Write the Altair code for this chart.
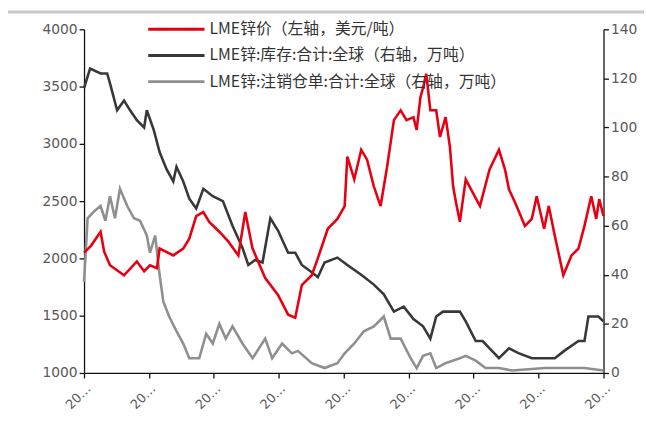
import altair as alt
import pandas as pd

names = ["LME锌价（左轴，美元/吨）",
         "LME锌:库存:合计:全球（右轴，万吨）",
         "LME锌:注销仓单:合计:全球（右轴，万吨）"]
colors = ["#e60012", "#383838", "#8f8f8f"]

price_dates = ["2013-01-01", "2013-02-09", "2013-04-04", "2013-04-24", "2013-05-27", "2013-08-14",
               "2013-10-25", "2013-12-05", "2014-01-07", "2014-02-15", "2014-03-02", "2014-05-18",
               "2014-07-13", "2014-08-16", "2014-09-24", "2014-11-03", "2014-12-06", "2015-02-01",
               "2015-03-24", "2015-05-19", "2015-06-27", "2015-08-06", "2015-10-17", "2015-12-28",
               "2016-02-23", "2016-04-03", "2016-05-10", "2016-07-05", "2016-08-08", "2016-10-03",
               "2016-11-26", "2017-01-06", "2017-01-21", "2017-03-01", "2017-04-09", "2017-05-12",
               "2017-06-19", "2017-07-27", "2017-09-02", "2017-10-10", "2017-11-17", "2017-12-20",
               "2018-01-28", "2018-02-15", "2018-03-08", "2018-03-23", "2018-04-10", "2018-05-03",
               "2018-06-05", "2018-06-26", "2018-07-28", "2018-08-21", "2018-09-08", "2018-09-24",
               "2018-10-16", "2018-11-18", "2018-12-26", "2019-02-06", "2019-04-01", "2019-05-24",
               "2019-06-27", "2019-07-19", "2019-08-22", "2019-10-17", "2019-11-25", "2019-12-22",
               "2020-02-02", "2020-02-28", "2020-04-02", "2020-05-20", "2020-07-05", "2020-08-13",
               "2020-09-16", "2020-10-24", "2020-11-21", "2020-12-08", "2021-01-01"]
price_vals = [2050, 2110, 2233, 2060, 1940, 1853, 1974, 1888, 1940, 1914, 2086, 2026,
              2086, 2172, 2370, 2405, 2319, 2233, 2146, 2026, 2405, 2090, 1828, 1681,
              1509, 1483, 1767, 1853, 2000, 2259, 2345, 2457, 2888, 2690, 2948, 2862,
              2629, 2457, 2802, 3207, 3293, 3207, 3233, 3121, 3405, 3491, 3612, 3293,
              3293, 3060, 3233, 2974, 2629, 2491, 2319, 2690, 2578, 2457, 2776, 2948,
              2776, 2603, 2491, 2284, 2345, 2543, 2259, 2457, 2198, 1853, 2026, 2086,
              2284, 2543, 2345, 2517, 2370]

stock_dates = ["2013-01-01", "2013-02-04", "2013-04-04", "2013-05-11", "2013-05-27", "2013-07-06",
               "2013-08-14", "2013-09-17", "2013-10-25", "2013-12-05", "2013-12-20", "2014-01-28",
               "2014-03-02", "2014-04-10", "2014-05-18", "2014-06-05", "2014-07-13", "2014-08-16",
               "2014-09-24", "2014-11-03", "2014-12-26", "2015-02-21", "2015-04-16", "2015-06-11",
               "2015-07-14", "2015-08-22", "2015-10-02", "2015-11-15", "2015-12-28", "2016-02-23",
               "2016-04-03", "2016-05-10", "2016-07-05", "2016-08-08", "2016-09-15", "2016-11-26",
               "2017-01-21", "2017-04-09", "2017-06-19", "2017-08-14", "2017-10-10", "2017-12-04",
               "2018-01-28", "2018-03-23", "2018-05-03", "2018-06-05", "2018-07-13", "2018-10-16",
               "2018-11-18", "2019-01-13", "2019-02-21", "2019-04-01", "2019-05-24", "2019-07-19",
               "2019-09-14", "2019-11-25", "2020-02-07", "2020-04-02", "2020-05-25", "2020-08-13",
               "2020-09-16", "2020-10-08", "2020-12-03", "2021-01-01"]
stock_vals = [116, 124, 122, 122, 118, 107, 111, 107, 103, 100, 107, 99,
              90, 83, 78, 84, 78, 71, 67, 75, 72, 70, 60, 51,
              44, 46, 45, 63, 58, 49, 49, 44, 41, 39, 45, 47,
              44, 40, 36, 32, 25, 27, 22, 19, 14, 23, 25, 25,
              21, 13, 13, 10, 6, 10, 8, 6, 6, 6, 9, 13,
              13, 23, 23, 21]

cancel_dates = ["2013-01-01", "2013-01-21", "2013-03-01", "2013-04-04", "2013-05-01", "2013-05-27",
                "2013-06-24", "2013-07-22", "2013-09-01", "2013-10-09", "2013-11-12", "2013-12-20",
                "2014-01-07", "2014-02-05", "2014-03-02", "2014-03-23", "2014-04-25", "2014-06-05",
                "2014-07-13", "2014-08-16", "2014-10-11", "2014-11-19", "2014-12-26", "2015-02-01",
                "2015-03-09", "2015-04-16", "2015-06-11", "2015-08-07", "2015-10-17", "2015-11-25",
                "2016-01-20", "2016-03-15", "2016-04-18", "2016-07-05", "2016-09-15", "2016-11-26",
                "2017-01-06", "2017-03-01", "2017-04-24", "2017-06-19", "2017-08-14", "2017-09-22",
                "2017-11-17", "2018-01-12", "2018-02-15", "2018-03-23", "2018-05-03", "2018-06-05",
                "2018-07-28", "2018-10-16", "2018-11-18", "2019-01-13", "2019-03-09", "2019-05-24",
                "2019-08-06", "2020-02-07", "2020-05-10", "2020-09-16", "2021-01-01"]
cancel_vals = [37, 63, 66, 68, 62, 72, 63, 75, 68, 63, 62, 56,
               49, 56, 40, 29, 23, 17, 12, 6, 6, 16, 12, 20,
               14, 19, 12, 6, 14, 6, 12, 8, 9, 4, 2, 4,
               8, 12, 17, 19, 23, 14, 14, 6, 2, 7, 8, 2,
               4, 6, 7, 5, 2, 2, 1, 2, 2, 2, 1]

tick_years = [2013, 2014, 2015, 2016, 2017, 2018, 2019, 2020, 2021]
left_ticks = [1000, 1500, 2000, 2500, 3000, 3500, 4000]
right_ticks = [0, 20, 40, 60, 80, 100, 120, 140]

price_df = pd.DataFrame({"date": price_dates, "value": price_vals, "series": names[0]})
stock_df = pd.concat([
    pd.DataFrame({"date": stock_dates, "value": stock_vals, "series": names[1]}),
    pd.DataFrame({"date": cancel_dates, "value": cancel_vals, "series": names[2]}),
], ignore_index=True)
legend_df = pd.DataFrame({"series": names})

W, H = 526, 348
label_font = "DejaVu Sans"
label_color = "#595959"

color = alt.Color("series:N", scale=alt.Scale(domain=names, range=colors), legend=None)

x_enc = alt.X(
    "date:T",
    scale=alt.Scale(domain=[alt.DateTime(year=tick_years[0], month=1, date=1),
                            alt.DateTime(year=tick_years[-1], month=1, date=1)]),
    axis=alt.Axis(values=[alt.DateTime(year=y, month=1, date=1) for y in tick_years],
                  labelExpr="slice(timeFormat(datum.value, '%Y-%m'), 0, 2) + '…'",
                  labelAngle=-45, labelAlign="right", labelBaseline="top",
                  labelFontSize=13, labelPadding=4, title=None, grid=False, tickSize=5),
)

stock_layer = alt.Chart(stock_df).mark_line(strokeWidth=2.6).encode(
    x=x_enc,
    y=alt.Y("value:Q", scale=alt.Scale(domain=[0, 140], nice=False, zero=False),
            axis=alt.Axis(orient="right", values=right_ticks, format="d", title=None, grid=False,
                          tickSize=5, labelPadding=2)),
    color=color,
    detail="series:N",
)

price_layer = alt.Chart(price_df).mark_line(strokeWidth=2.6).encode(
    x=x_enc,
    y=alt.Y("value:Q", scale=alt.Scale(domain=[1000, 4000], nice=False, zero=False),
            axis=alt.Axis(orient="left", values=left_ticks, format="d", title=None, grid=False,
                          tickSize=5, labelPadding=2)),
    color=color,
)

band = alt.Chart(alt.Data(values=[{"k": 1}])).mark_rect(color="#c8c8c8").encode(
    x=alt.value(-77), x2=alt.value(W + 41), y=alt.value(-19), y2=alt.value(-16)
)

leg_y = alt.Y("series:N", scale=alt.Scale(type="point", domain=names, range=[0, 53], padding=0),
              axis=None)
legend_rules = alt.Chart(legend_df).mark_rule(strokeWidth=3).encode(
    x=alt.value(65), x2=alt.value(122), y=leg_y, color=color
)
legend_text = alt.Chart(legend_df).mark_text(
    align="left", baseline="middle", font="Noto Sans CJK SC", fontSize=16, color="#333333"
).encode(x=alt.value(127), y=leg_y, text="series:N")

chart = alt.layer(stock_layer, price_layer, band, legend_rules, legend_text).resolve_scale(
    y="independent"
).properties(
    width=W, height=H,
    padding={"left": 77, "top": 19, "right": 41, "bottom": 40},
    autosize=alt.AutoSizeParams(type="none"),
).configure_view(stroke=None).configure_axis(
    domainColor="#111111", tickColor="#111111", domainWidth=1.3, tickWidth=1.3,
    labelColor=label_color, labelFont=label_font, labelFontSize=14,
)

chart.save("out.html", embed_options={"renderer": "svg", "actions": False})
